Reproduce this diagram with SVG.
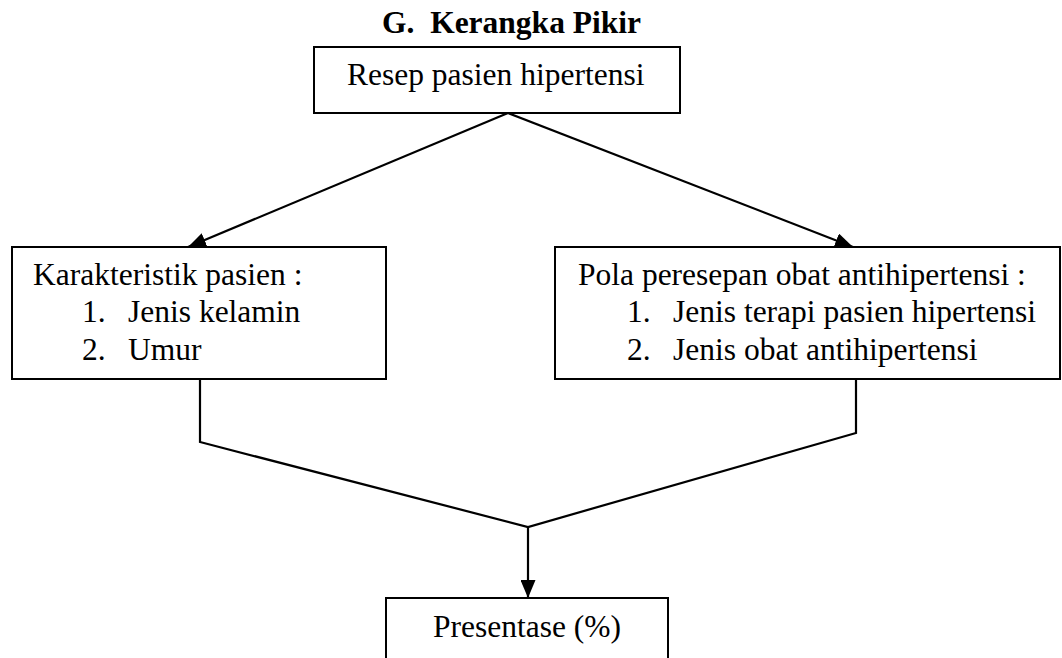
<svg xmlns="http://www.w3.org/2000/svg" width="1062" height="658" viewBox="0 0 1062 658">
<style>
.box{fill:#fff;stroke:#000;stroke-width:2}
.t{font-family:"Liberation Serif","Times New Roman",serif;font-size:31.5px;fill:#000}
.title{font-family:"Liberation Serif","Times New Roman",serif;font-size:31.5px;font-weight:bold;fill:#000}
.ln{fill:none;stroke:#000;stroke-width:2.2}
</style>
<defs>
<marker id="ah" markerUnits="userSpaceOnUse" markerWidth="18" markerHeight="15" refX="18" refY="7.5" orient="auto">
<path d="M0,0 L18,7.5 L0,15 z" fill="#000"/>
</marker>
</defs>
<rect width="1062" height="658" fill="#fff"/>
<text class="title" x="382" y="33" xml:space="preserve">G.  Kerangka Pikir</text>
<g id="connectors">
<line class="ln" x1="508" y1="113" x2="188" y2="247" marker-end="url(#ah)"/>
<line class="ln" x1="508" y1="113" x2="853" y2="247" marker-end="url(#ah)"/>
<polyline class="ln" points="200,379 200,442 528,527 856,433 856,379"/>
<line class="ln" x1="528" y1="527" x2="528" y2="598" marker-end="url(#ah)"/>
</g>
<g id="resep">
<rect class="box" x="314" y="47" width="366" height="66"/>
<text class="t" x="347" y="85">Resep pasien hipertensi</text>
</g>
<g id="karakteristik">
<rect class="box" x="12" y="247" width="374" height="132"/>
<text class="t" x="33" y="285">Karakteristik pasien :</text>
<text class="t" x="82" y="322">1.</text>
<text class="t" x="128" y="322">Jenis kelamin</text>
<text class="t" x="82" y="360">2.</text>
<text class="t" x="128" y="360">Umur</text>
</g>
<g id="pola">
<rect class="box" x="555" y="247" width="505" height="132"/>
<text class="t" x="578" y="285">Pola peresepan obat antihipertensi :</text>
<text class="t" x="627" y="322">1.</text>
<text class="t" x="673" y="322">Jenis terapi pasien hipertensi</text>
<text class="t" x="627" y="360">2.</text>
<text class="t" x="673" y="360">Jenis obat antihipertensi</text>
</g>
<g id="presentase">
<rect class="box" x="386" y="598" width="282" height="80"/>
<text class="t" x="433" y="637">Presentase (%)</text>
</g>
</svg>
